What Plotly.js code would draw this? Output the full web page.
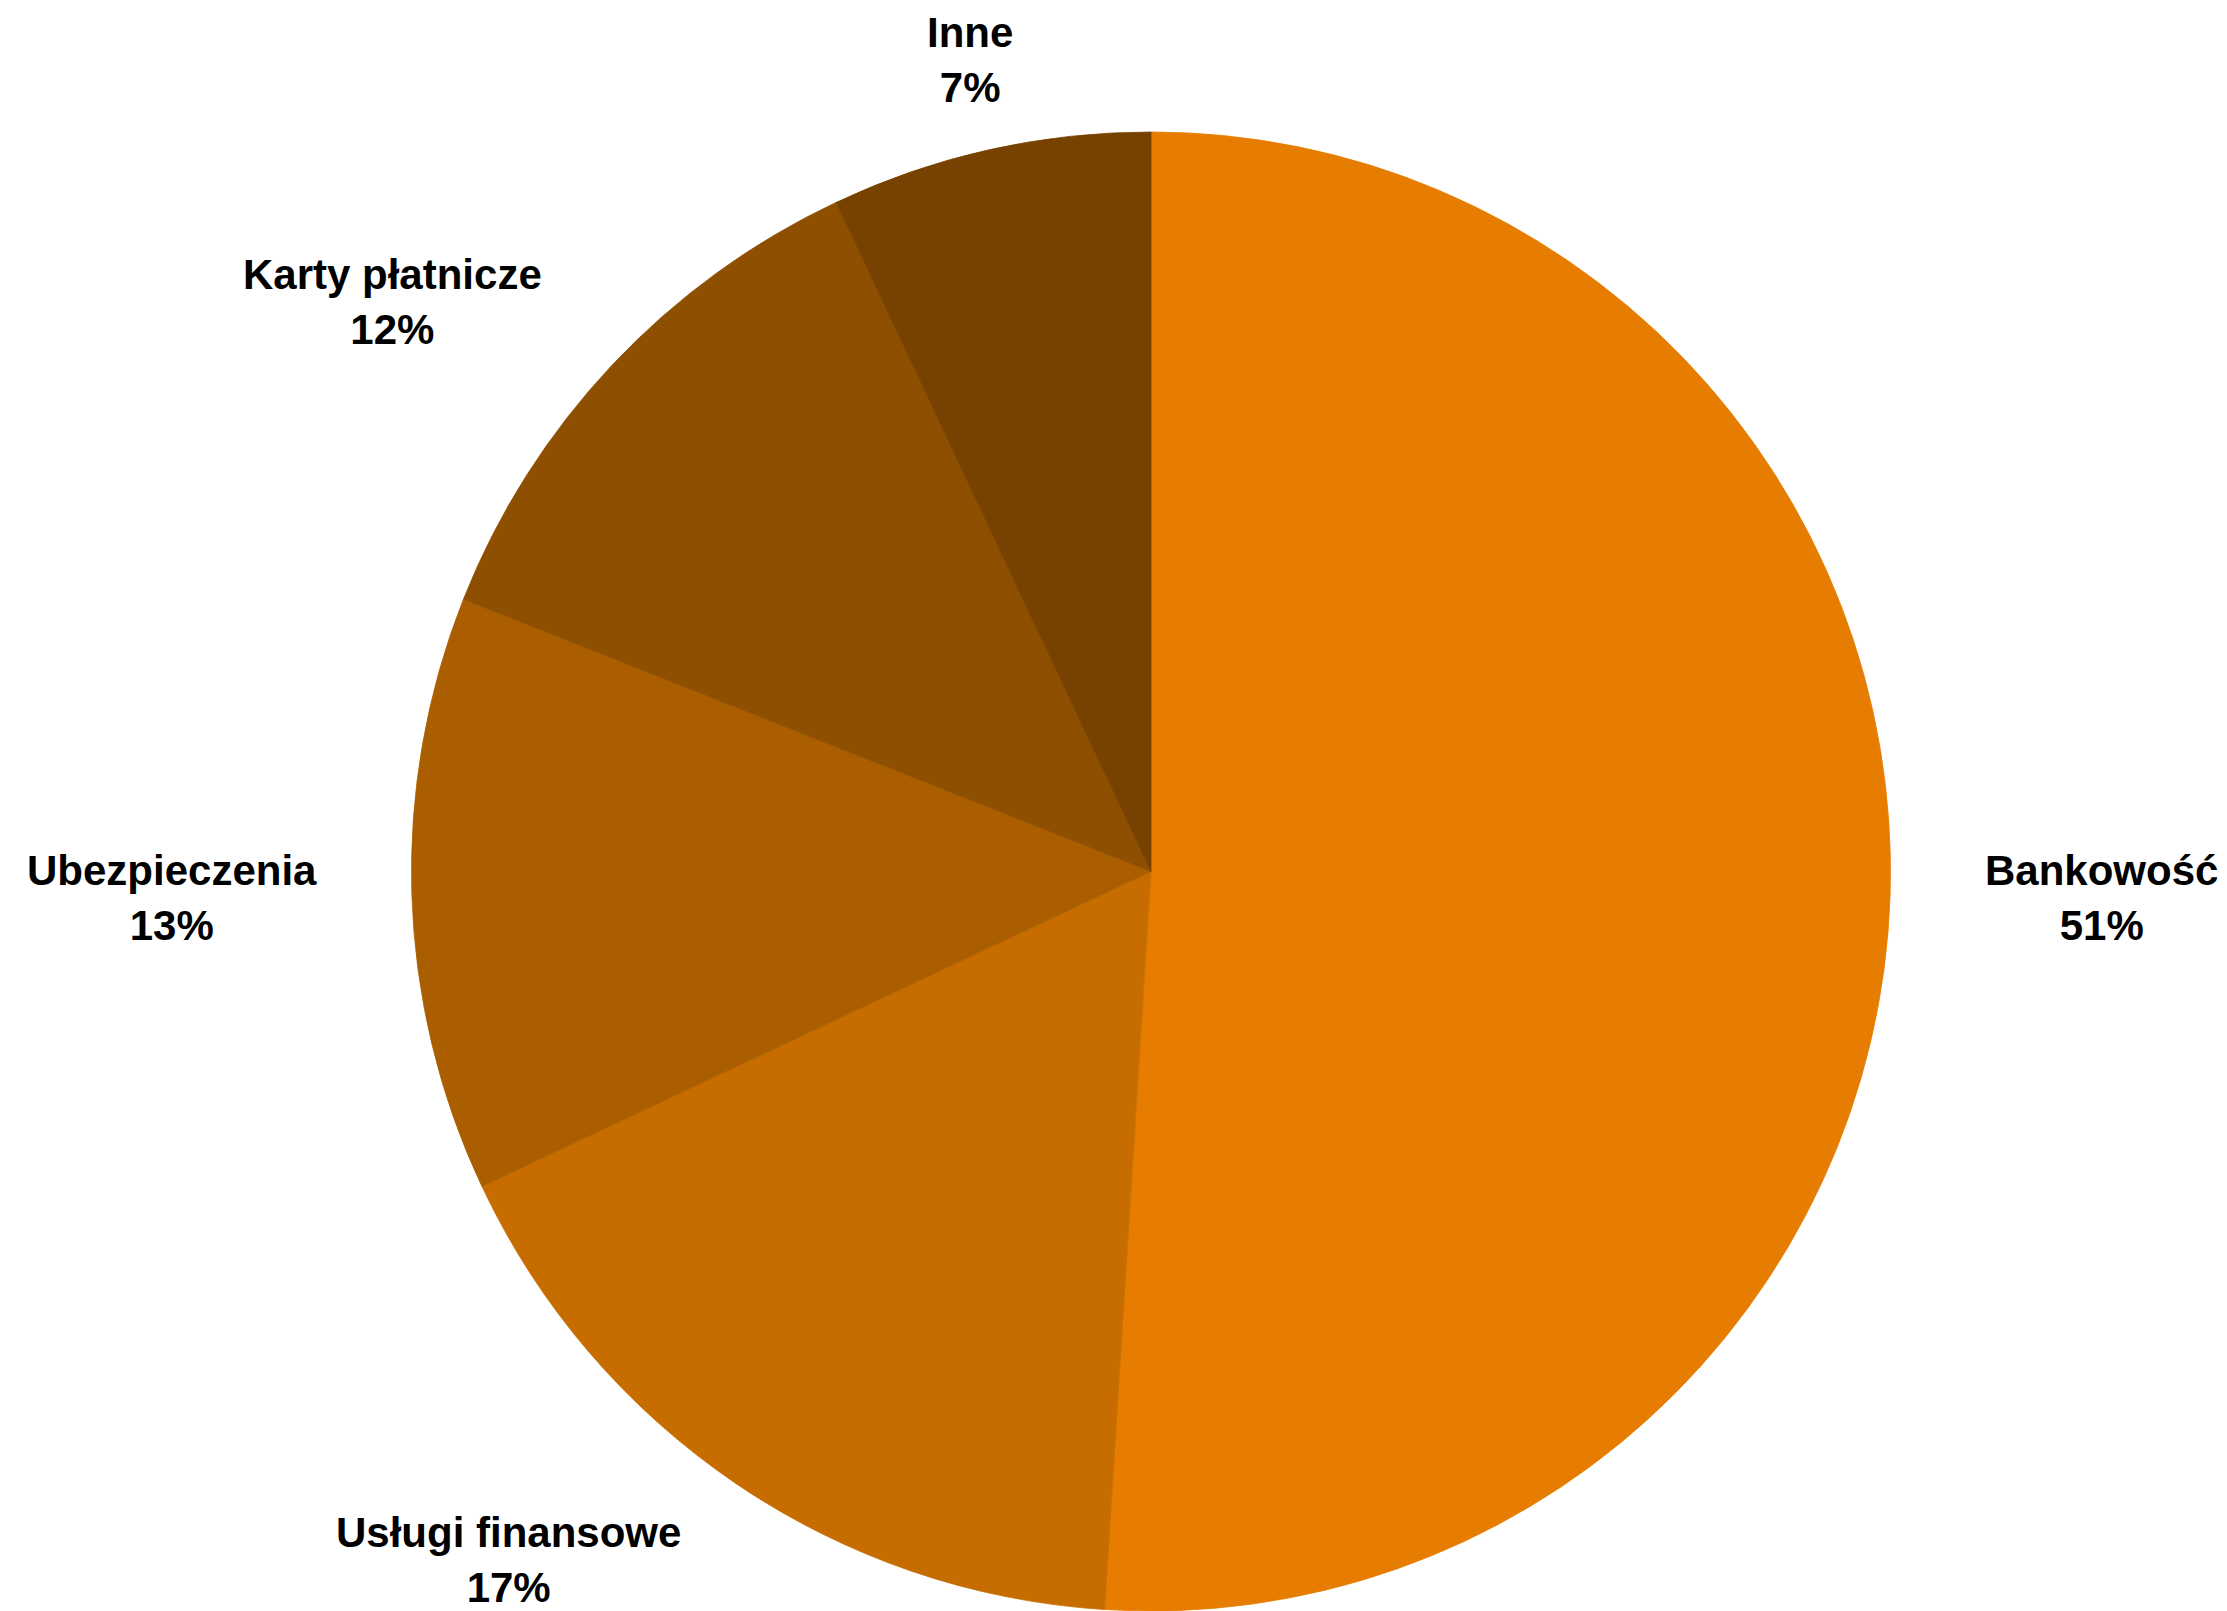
<!DOCTYPE html>
<html>
<head>
<meta charset="utf-8">
<script src="https://cdn.plot.ly/plotly-3.0.1.min.js"></script>
<style>html,body{margin:0;padding:0;background:#fff;}#chart{width:2227px;height:1611px;}</style>
</head>
<body>
<div id="chart"></div>
<script>
const categories = ["Bankowość", "Usługi finansowe", "Ubezpieczenia", "Karty płatnicze", "Inne"];
const values = [51, 17, 13, 12, 7];
const colors = ["#E67C00", "#C76D00", "#AA5E00", "#8F4F00", "#774200"];

const W = 2227, H = 1611;
const cx = 1151, cy = 872, r = 740;   // pie centre and radius in px
const labelR = 832;                    // label anchor radius in px

const total = values.reduce((a, b) => a + b, 0);
const annotations = [];
let cum = 0;
values.forEach((v, i) => {
  const mid = (cum + v / 2) / total * 2 * Math.PI;
  cum += v;
  const s = Math.sin(mid), c = Math.cos(mid);
  const px = cx + labelR * s, py = cy - labelR * c;
  annotations.push({
    xref: "paper", yref: "paper",
    x: px / W, y: 1 - py / H,
    xanchor: s > 0.3 ? "left" : (s < -0.3 ? "right" : "center"),
    yanchor: "middle",
    align: "center",
    showarrow: false,
    text: "<b>" + categories[i] + "<br>" + Math.round(v / total * 100) + "%</b>",
    font: {family: "Liberation Sans, Arial, sans-serif", size: 42, color: "#000"}
  });
});

const trace = {
  type: "pie",
  labels: categories,
  values: values,
  sort: false,
  direction: "clockwise",
  rotation: 0,
  textinfo: "none",
  hoverinfo: "label+percent",
  marker: {colors: colors, line: {width: 0.8, color: colors}},
  domain: {x: [(cx - r) / W, (cx + r) / W], y: [1 - (cy + r) / H, 1 - (cy - r) / H]},
  showlegend: false
};

const layout = {
  width: W, height: H,
  margin: {l: 0, r: 0, t: 0, b: 0},
  paper_bgcolor: "#fff",
  plot_bgcolor: "#fff",
  showlegend: false,
  annotations: annotations
};

Plotly.newPlot("chart", [trace], layout, {displayModeBar: false, staticPlot: true});
</script>
</body>
</html>
